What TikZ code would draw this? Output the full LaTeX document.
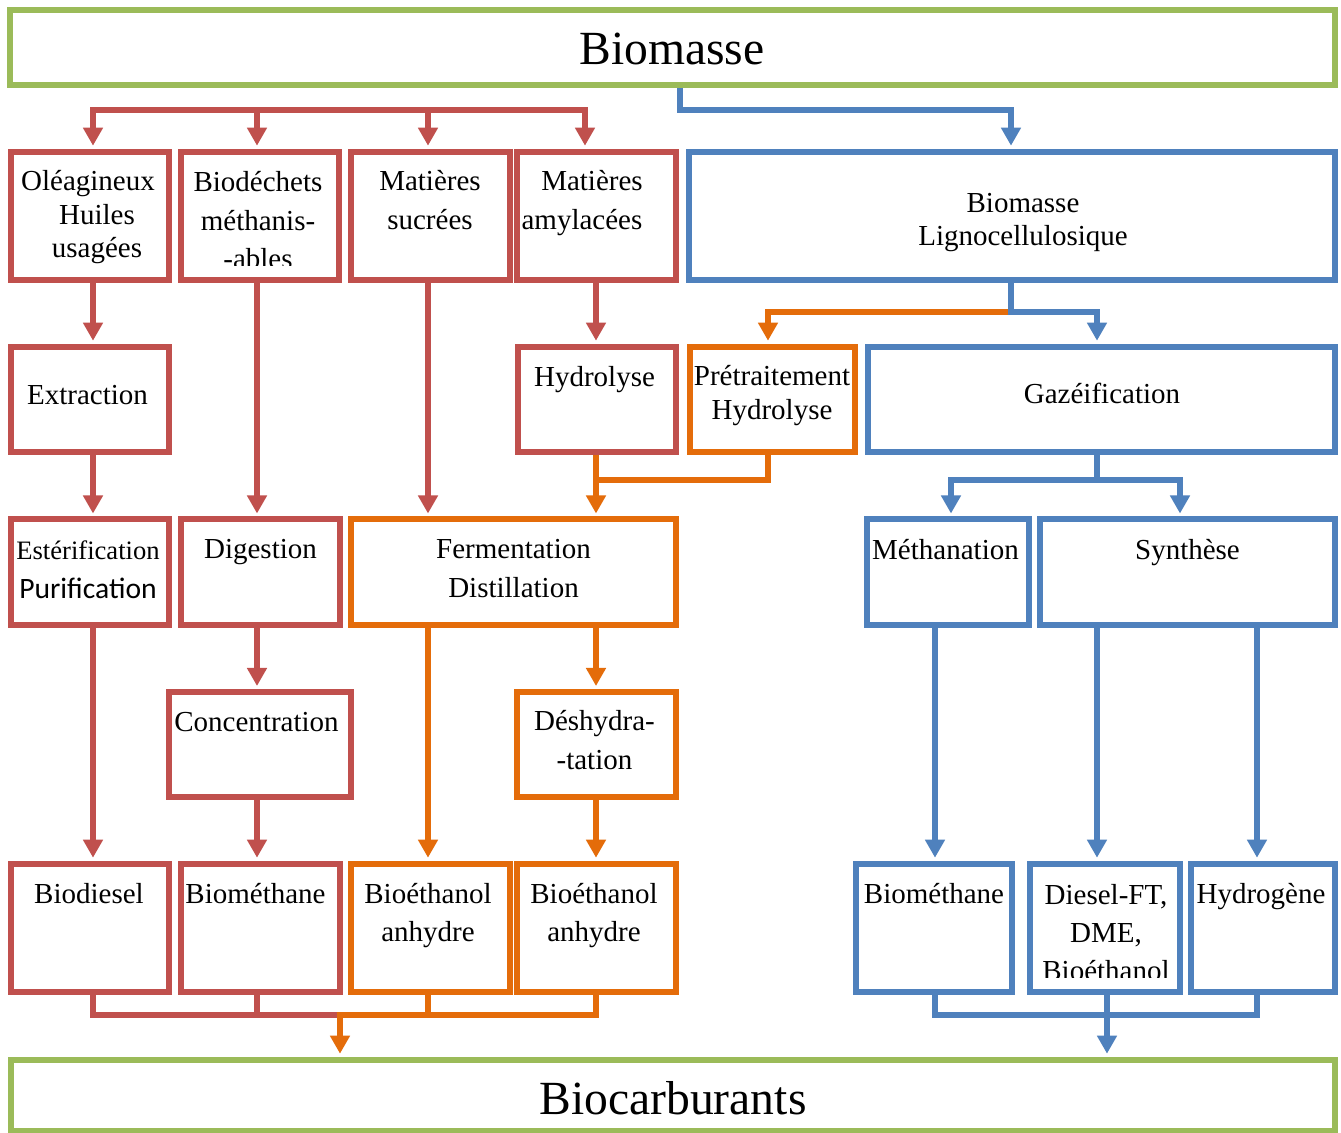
\documentclass[tikz,border=0pt]{standalone}
\usepackage{fontspec}
\setmainfont{Liberation Serif}
\newfontfamily\carlfont{Carlito}
\usetikzlibrary{arrows.meta,fit,backgrounds}
\definecolor{cred}{HTML}{C0504D}
\definecolor{cblue}{HTML}{4F81BD}
\definecolor{corange}{HTML}{E46C0A}
\definecolor{cgreen}{HTML}{9BBB59}
\tikzset{
  box/.style={draw, line width=3pt, inner sep=0pt, fill=white},
  rbox/.style={box, draw=cred},
  bbox/.style={box, draw=cblue},
  obox/.style={box, draw=corange},
  gbox/.style={box, draw=cgreen},
  txt/.style={inner sep=0pt, anchor=base, align=center, font=\fontsize{14.5}{19.25}\selectfont},
  bigtxt/.style={inner sep=0pt, anchor=base, font=\fontsize{23.8}{28}\selectfont},
  link/.style={line width=3pt, line join=miter},
  tip/.tip={Triangle[width=9.5pt,length=9pt]},
  arr/.style={link, -tip, shorten >=1.5pt},
  darr/.style={link, tip-tip, shorten >=1.5pt, shorten <=1.5pt},
}
\begin{document}
\begin{tikzpicture}[x=0.5pt,y=-0.5pt]
\useasboundingbox (0,0) rectangle (1341,1133);

% ---------- boxes ----------
\node[gbox, fit={(10,9.7)(1334.7,85)}] (bms) {};
\node[rbox, fit={(10.5,151.7)(169.3,280.3)}] (ole) {};
\node[rbox, fit={(181,151.7)(339,280.3)}] (bdc) {};
\node[rbox, fit={(351,151.7)(509.5,280.3)}] (suc) {};
\node[rbox, fit={(517,151.7)(676,280.3)}] (amy) {};
\node[bbox, fit={(688.7,151.7)(1334.7,280.3)}] (lig) {};
\node[rbox, fit={(10.5,346.7)(169.3,452.5)}] (ext) {};
\node[rbox, fit={(518,346.7)(676,452.5)}] (hyd) {};
\node[obox, fit={(689.6,346.7)(855,452.5)}] (pre) {};
\node[bbox, fit={(868,346.7)(1334.7,452.5)}] (gaz) {};
\node[rbox, fit={(10.5,519.5)(169.3,625)}] (est) {};
\node[rbox, fit={(181,519.5)(340,625)}] (dig) {};
\node[obox, fit={(350.7,519.5)(676,625)}] (fer) {};
\node[bbox, fit={(867,519.5)(1029,625)}] (met) {};
\node[bbox, fit={(1040,519.5)(1334.7,625)}] (syn) {};
\node[rbox, fit={(168.7,692)(351,797.5)}] (cnc) {};
\node[obox, fit={(517,692)(676,797.5)}] (des) {};
\node[rbox, fit={(10.5,863.7)(169.3,992.5)}] (bdi) {};
\node[rbox, fit={(181,863.7)(340,992.5)}] (bmr) {};
\node[obox, fit={(350.7,863.7)(510,992.5)}] (bea) {};
\node[obox, fit={(517,863.7)(676,992.5)}] (beb) {};
\node[bbox, fit={(856,863.7)(1012,992.5)}] (bmb) {};
\node[bbox, fit={(1029.7,863.7)(1180.3,992.5)}] (die) {};
\node[bbox, fit={(1190.5,863.7)(1334.7,992.5)}] (hyg) {};
\node[gbox, fit={(10.5,1059.7)(1334.7,1131)}] (car) {};

% ---------- columns and rows of the connectors ----------
\coordinate (c1) at (93,0);
\coordinate (c2) at (257,0);
\coordinate (c3) at (428,0);
\coordinate (c4) at (596,0);
\coordinate (c4t) at (585,0);
\coordinate (c5) at (768,0);
\coordinate (c6) at (1011,0);
\coordinate (c7) at (1097,0);
\coordinate (c8) at (951,0);
\coordinate (c9) at (1180,0);
\coordinate (c10) at (935,0);
\coordinate (c11) at (1257,0);
\coordinate (c12) at (1107,0);
\coordinate (c13) at (679.7,0);
\coordinate (c14) at (340,0);
\coordinate (r1) at (0,109.7);
\coordinate (r2) at (0,312);
\coordinate (r3) at (0,480);
\coordinate (r4) at (0,1015.5);

% ---------- connectors ----------
\begin{scope}[on background layer]
\fill[white] (0,0) rectangle (1341,1133);
% top
\draw[darr, cred] (ole.north -| c1) -- (c1 |- r1) -- (c4t |- r1) -- (amy.north -| c4t);
\draw[arr, cred] (c2 |- r1) -- (bdc.north -| c2);
\draw[arr, cred] (c3 |- r1) -- (suc.north -| c3);
\draw[arr, cblue] (bms.south -| c13) -- (c13 |- r1) -- (c6 |- r1) -- (lig.north -| c6);
% row 1 -> row 2
\draw[arr, cred] (ole.south -| c1) -- (ext.north -| c1);
\draw[arr, cred] (amy.south -| c4) -- (hyd.north -| c4);
\draw[arr, corange] (c6 |- r2) -- (c5 |- r2) -- (pre.north -| c5);
\draw[arr, cblue] (lig.south -| c6) -- (c6 |- r2) -- (c7 |- r2) -- (gaz.north -| c7);
\draw[arr, cred] (bdc.south -| c2) -- (dig.north -| c2);
\draw[arr, cred] (suc.south -| c3) -- (fer.north -| c3);
% row 2 -> row 3
\draw[arr, cred] (ext.south -| c1) -- (est.north -| c1);
\draw[link, corange] (hyd.south -| c4) -- (c4 |- r3) -- (c5 |- r3) -- (pre.south -| c5);
\draw[arr, corange] (c4 |- r3) -- (fer.north -| c4);
\draw[link, cblue] (gaz.south -| c7) -- (c7 |- r3);
\draw[darr, cblue] (met.north -| c8) -- (c8 |- r3) -- (c9 |- r3) -- (syn.north -| c9);
% row 3 -> rows 4 and 5
\draw[arr, cred] (est.south -| c1) -- (bdi.north -| c1);
\draw[arr, cred] (dig.south -| c2) -- (cnc.north -| c2);
\draw[arr, cred] (cnc.south -| c2) -- (bmr.north -| c2);
\draw[arr, corange] (fer.south -| c3) -- (bea.north -| c3);
\draw[arr, corange] (fer.south -| c4) -- (des.north -| c4);
\draw[arr, corange] (des.south -| c4) -- (beb.north -| c4);
\draw[arr, cblue] (met.south -| c10) -- (bmb.north -| c10);
\draw[arr, cblue] (syn.south -| c7) -- (die.north -| c7);
\draw[arr, cblue] (syn.south -| c11) -- (hyg.north -| c11);
% bottom
\draw[link, cred] (bdi.south -| c1) -- (c1 |- r4) -- (c14 |- r4);
\draw[link, cred] (bmr.south -| c2) -- (c2 |- r4);
\draw[link, corange] (bea.south -| c3) -- (c3 |- r4);
\draw[arr, corange] (beb.south -| c4) -- (c4 |- r4) -- (c14 |- r4) -- (car.north -| c14);
\draw[link, cblue] (bmb.south -| c10) -- (c10 |- r4) -- (c11 |- r4) -- (hyg.south -| c11);
\draw[arr, cblue] (die.south -| c12) -- (car.north -| c12);
\end{scope}

% ---------- texts (multi-line nodes are placed at the baseline of their last line) ----------
\node[bigtxt] (tbms) at (672,65) {Biomasse};
\node[txt, font=\fontsize{14.5}{16.75}\selectfont] (tole) at (88,257.7) {Oléagineux\\\hspace*{9pt}Huiles\\\hspace*{9pt}usagées};
\begin{scope}
\clip (181,151.7) rectangle (339,266);
\node[txt] (tbdc) at (258,269) {Biodéchets\\méthanis-\\-ables};
\end{scope}
\node[txt, font=\fontsize{14.5}{19.5}\selectfont] (tsuc) at (430,230) {Matières\\sucrées};
\node[txt, font=\fontsize{14.5}{19.5}\selectfont] (tamy) at (582,230) {\hspace*{10pt}Matières\\amylacées};
\node[txt, font=\fontsize{14.5}{16.65}\selectfont] (tlig) at (1023,246) {Biomasse\\Lignocellulosique};
\node[txt] (text) at (87.5,405) {Extraction};
\node[txt] (thyd) at (594.5,386.7) {Hydrolyse};
\node[txt, font=\fontsize{14.5}{16.65}\selectfont] (tpre) at (772,419.3) {Prétraitement\\Hydrolyse};
\node[txt] (tgaz) at (1102,404) {Gazéification};
\node[txt, font=\fontsize{13.3}{16}\selectfont] (testa) at (88,559.3) {Estérification};
\node[txt, font=\carlfont\fontsize{14.8}{18}\selectfont] (testb) at (88,598.3) {Purification};
\node[txt] (tdig) at (260.5,559) {Digestion};
\node[txt, font=\fontsize{14.5}{19.35}\selectfont] (tfer) at (513.5,597.7) {Fermentation\\Distillation};
\node[txt] (tmet) at (945.5,560) {Méthanation};
\node[txt] (tsyn) at (1187.5,560) {Synthèse};
\node[txt] (tcnc) at (256.5,731.7) {Concentration};
\node[txt, font=\fontsize{14.5}{19.5}\selectfont] (tdes) at (594.5,770) {Déshydra-\\-tation};
\node[txt] (tbdi) at (89,903.3) {Biodiesel};
\node[txt] (tbmr) at (255.5,903.3) {Biométhane};
\node[txt, font=\fontsize{14.5}{19.2}\selectfont] (tbea) at (428,941.7) {Bioéthanol\\anhydre};
\node[txt, font=\fontsize{14.5}{19.2}\selectfont] (tbeb) at (594,941.7) {Bioéthanol\\anhydre};
\node[txt] (tbmb) at (934,903.3) {Biométhane};
\begin{scope}
\clip (1029.7,863.7) rectangle (1180.3,978);
\node[txt, font=\fontsize{14.5}{19.2}\selectfont] (tdie) at (1106,981) {Diesel-FT,\\DME,\\Bioéthanol};
\end{scope}
\node[txt] (thyg) at (1261,903.3) {Hydrogène};
\node[bigtxt] (tcar) at (673,1115) {Biocarburants};
\end{tikzpicture}
\end{document}
